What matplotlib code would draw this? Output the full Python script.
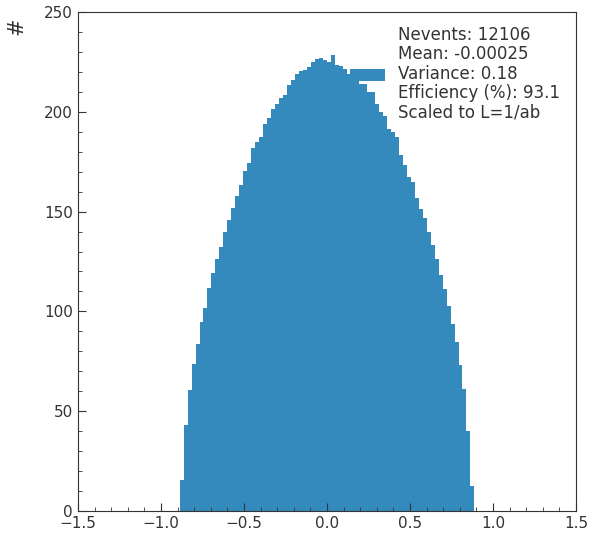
import matplotlib
matplotlib.use("Agg")
import matplotlib.pyplot as plt
import numpy as np
from matplotlib.ticker import MultipleLocator

# histogram: 74 bins of width 0.024 between -0.888 and 0.888
bin_lo = -0.888
bin_hi = 0.888
counts = [
    15.5, 43, 60.5, 73.8, 83.8, 94.7, 101.7, 111.7, 119.2, 126.1,
    132.3, 139.8, 145.6, 152, 157.8, 163.2, 170.2, 174.4, 181.9, 184.9,
    187.2, 193.9, 197, 201.6, 203.9, 207.1, 208.3, 213.6, 215.8, 219.1,
    220.3, 220.8, 222.3, 225, 226.3, 227, 225.8, 225, 228.3, 223.6,
    223, 221.6, 219, 218, 216, 214, 214, 209.9, 210, 204,
    199.9, 198, 191.5, 189.9, 187.4, 178.2, 173.2, 167.3, 164.8, 157,
    151.5, 147, 139.8, 133.4, 126, 118.4, 111.1, 102.7, 93.8, 84.7,
    73, 61.3, 40, 12.5,
]
label_lines = [
    "Nevents: 12106",
    "Mean: -0.00025",
    "Variance: 0.18",
    "Efficiency (%): 93.1",
    "Scaled to L=1/ab",
]

edges = np.linspace(bin_lo, bin_hi, len(counts) + 1)
centers = 0.5 * (edges[:-1] + edges[1:])

plt.rcParams["font.family"] = ["DejaVu Sans"]
text_color = "#333333"
fig = plt.figure(figsize=(5.89, 5.37), dpi=100, facecolor="white")
ax = fig.add_axes([0.1324, 0.0484, 0.8456, 0.9293])

ax.hist(
    centers,
    bins=edges,
    weights=counts,
    histtype="stepfilled",
    color="#358abd",
    linewidth=0,
    label="\n".join(label_lines),
)

ax.set_xlim(-1.5, 1.5)
ax.set_ylim(0, 250)
ax.xaxis.set_major_locator(MultipleLocator(0.5))
ax.xaxis.set_minor_locator(MultipleLocator(0.1))
ax.yaxis.set_major_locator(MultipleLocator(50))
ax.yaxis.set_minor_locator(MultipleLocator(10))
ax.tick_params(which="both", direction="in", labelsize=11, labelcolor=text_color,
               color="#333333")
ax.tick_params(which="major", length=6)
ax.tick_params(which="minor", length=3)
for spine in ax.spines.values():
    spine.set_color("#333333")

ax.set_ylabel("#", loc="top", fontsize=15, color=text_color)
ax.yaxis.set_label_coords(-0.104, 0.988)

leg = ax.legend(
    loc="upper left",
    bbox_to_anchor=(0.546, 0.972),
    frameon=False,
    fontsize=12,
    handlelength=2.1,
    handletextpad=0.78,
    borderpad=0,
    borderaxespad=0,
)
for t in leg.get_texts():
    t.set_color(text_color)
    t.set_linespacing(1.1)

fig.savefig("out.png", dpi=100, facecolor="white")
